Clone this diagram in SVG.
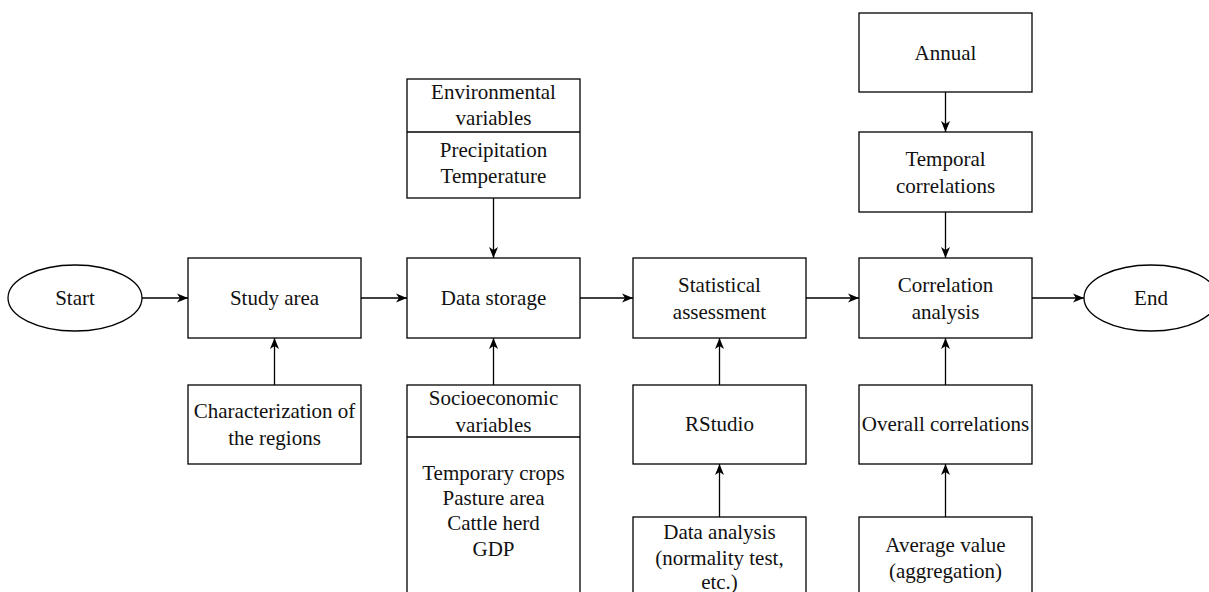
<svg xmlns="http://www.w3.org/2000/svg" width="1209" height="592" viewBox="0 0 1209 592">
<style>
.b{fill:#fff;stroke:#000;stroke-width:1.3}
.t{font-family:"Liberation Serif","Times New Roman",serif;font-size:21px;fill:#111;text-anchor:middle}
.c{fill:none;stroke:#000;stroke-width:1.3;marker-end:url(#ah)}
</style>
<defs>
<marker id="ah" markerUnits="userSpaceOnUse" markerWidth="12" markerHeight="12" viewBox="0 0 12 12" refX="11" refY="6" orient="auto">
<path d="M0,1.5 L11,6 L0,10.5 L3,6 Z" fill="#000"/>
</marker>
</defs>
<rect width="1209" height="592" fill="#fff"/>
<g id="connectors">
<line class="c" x1="142" y1="298" x2="188" y2="298"/>
<line class="c" x1="361" y1="298" x2="407" y2="298"/>
<line class="c" x1="580" y1="298" x2="633" y2="298"/>
<line class="c" x1="806" y1="298" x2="859" y2="298"/>
<line class="c" x1="1032" y1="298" x2="1084" y2="298"/>
<line class="c" x1="493.5" y1="198" x2="493.5" y2="258"/>
<line class="c" x1="493.5" y1="385" x2="493.5" y2="338"/>
<line class="c" x1="274.5" y1="385" x2="274.5" y2="338"/>
<line class="c" x1="719.5" y1="385" x2="719.5" y2="338"/>
<line class="c" x1="719.5" y1="517" x2="719.5" y2="464"/>
<line class="c" x1="945.5" y1="92" x2="945.5" y2="132"/>
<line class="c" x1="945.5" y1="212" x2="945.5" y2="258"/>
<line class="c" x1="945.5" y1="385" x2="945.5" y2="338"/>
<line class="c" x1="945.5" y1="517" x2="945.5" y2="464"/>
</g>
<g id="start">
<ellipse class="b" cx="75" cy="298" rx="67" ry="33"/>
<text class="t" x="75" y="305">Start</text>
</g>
<g id="study-area">
<rect class="b" x="188" y="258" width="173" height="80"/>
<text class="t" x="274.5" y="305">Study area</text>
</g>
<g id="characterization">
<rect class="b" x="188" y="385" width="173" height="79"/>
<text class="t" x="274.5" y="418">Characterization of</text>
<text class="t" x="274.5" y="445">the regions</text>
</g>
<g id="env-variables">
<rect class="b" x="407" y="79" width="173" height="119"/>
<line x1="407" y1="132" x2="580" y2="132" stroke="#000" stroke-width="1.3"/>
<text class="t" x="493.5" y="99">Environmental</text>
<text class="t" x="493.5" y="125">variables</text>
<text class="t" x="493.5" y="157">Precipitation</text>
<text class="t" x="493.5" y="183">Temperature</text>
</g>
<g id="data-storage">
<rect class="b" x="407" y="258" width="173" height="80"/>
<text class="t" x="493.5" y="305">Data storage</text>
</g>
<g id="socio-variables">
<rect class="b" x="407" y="385" width="173" height="230"/>
<line x1="407" y1="437" x2="580" y2="437" stroke="#000" stroke-width="1.3"/>
<text class="t" x="493.5" y="405">Socioeconomic</text>
<text class="t" x="493.5" y="432">variables</text>
<text class="t" x="493.5" y="480">Temporary crops</text>
<text class="t" x="493.5" y="505">Pasture area</text>
<text class="t" x="493.5" y="530">Cattle herd</text>
<text class="t" x="493.5" y="556">GDP</text>
</g>
<g id="statistical">
<rect class="b" x="633" y="258" width="173" height="80"/>
<text class="t" x="719.5" y="292">Statistical</text>
<text class="t" x="719.5" y="319">assessment</text>
</g>
<g id="rstudio">
<rect class="b" x="633" y="385" width="173" height="79"/>
<text class="t" x="719.5" y="431">RStudio</text>
</g>
<g id="data-analysis">
<rect class="b" x="633" y="517" width="173" height="100"/>
<text class="t" x="719.5" y="539">Data analysis</text>
<text class="t" x="719.5" y="565">(normality test,</text>
<text class="t" x="719.5" y="589">etc.)</text>
</g>
<g id="annual">
<rect class="b" x="859" y="13" width="173" height="79"/>
<text class="t" x="945.5" y="60">Annual</text>
</g>
<g id="temporal">
<rect class="b" x="859" y="132" width="173" height="80"/>
<text class="t" x="945.5" y="166">Temporal</text>
<text class="t" x="945.5" y="193">correlations</text>
</g>
<g id="correlation-analysis">
<rect class="b" x="859" y="258" width="173" height="80"/>
<text class="t" x="945.5" y="292">Correlation</text>
<text class="t" x="945.5" y="319">analysis</text>
</g>
<g id="overall">
<rect class="b" x="859" y="385" width="173" height="79"/>
<text class="t" x="945.5" y="431">Overall correlations</text>
</g>
<g id="average">
<rect class="b" x="859" y="517" width="173" height="100"/>
<text class="t" x="945.5" y="552">Average value</text>
<text class="t" x="945.5" y="578">(aggregation)</text>
</g>
<g id="end">
<ellipse class="b" cx="1151" cy="298" rx="67" ry="33"/>
<text class="t" x="1151" y="305">End</text>
</g>
</svg>
